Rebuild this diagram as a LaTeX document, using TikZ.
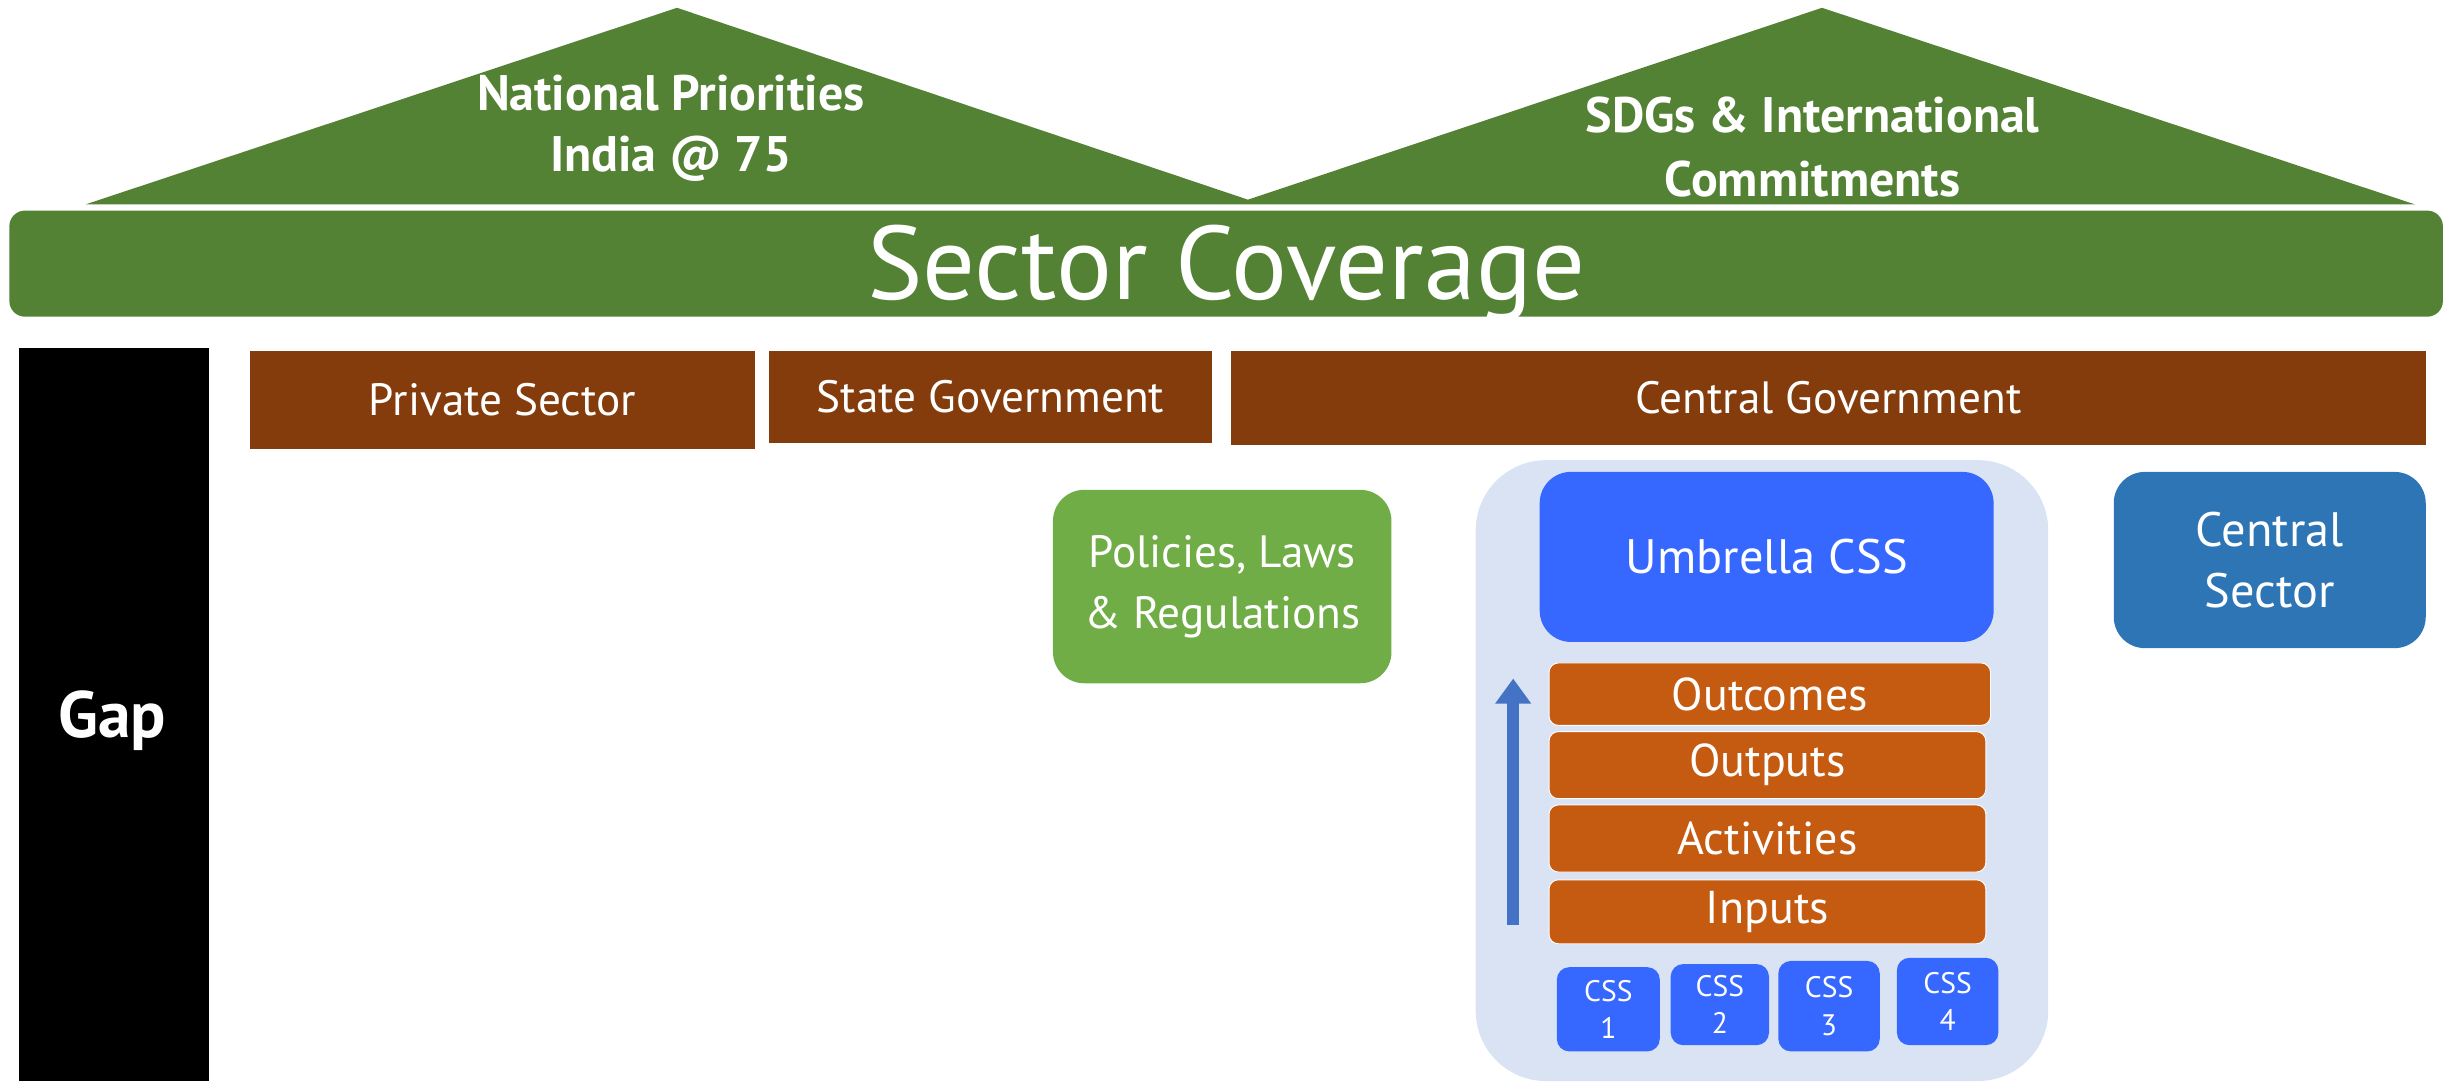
\documentclass[tikz,border=0pt]{standalone}
\usepackage{fontspec}
\setmainfont{PT Sans}
\usetikzlibrary{arrows.meta}
\definecolor{roofgreen}{HTML}{548235}
\definecolor{brownbar}{HTML}{843C0C}
\definecolor{polgreen}{HTML}{70AD47}
\definecolor{lightbox}{HTML}{DAE3F3}
\definecolor{brightblue}{HTML}{3668FF}
\definecolor{midblue}{HTML}{2E75B6}
\definecolor{orangebox}{HTML}{C55A11}
\definecolor{arrowblue}{HTML}{4472C4}
\newcommand{\fs}[2]{\fontsize{#1}{#2}\selectfont}
\tikzset{
  txt/.style={text=white, inner sep=0pt, align=center},
  brownbox/.style={txt, fill=brownbar, font=\fs{29}{34}},
  roundbox/.style={txt, rounded corners=20pt, font=\fs{30}{39}},
  levelbox/.style={txt, fill=orangebox, draw=white, line width=0.6pt, rounded corners=6pt, font=\fs{29.5}{32}},
  cssbox/.style={txt, fill=brightblue, rounded corners=8pt, font=\fs{19}{24}},
}
\begin{document}
\begin{tikzpicture}[x=1pt,y=-1pt]
\useasboundingbox (0,0) rectangle (1568,693);
% roof
\fill[roofgreen] (55,131) -- (434,5) -- (800,128) -- (1168,5) -- (1548,131) -- cycle;
\node[txt, font=\bfseries\fs{32}{39}] (natpri) at (430,82) {National Priorities\\India @ 75};
\node[txt, font=\bfseries\fs{32}{41}] (sdgs) at (1162,94) {SDGs \& International\\Commitments};
% sector coverage bar
\node[fill=roofgreen, rounded corners=10pt, minimum width=1560pt, minimum height=68pt, inner sep=0pt] (coverage) at (786,169) {};
\node[txt, font=\fs{67}{70}] (coveragelabel) at (786,175) {Sector Coverage};
% gap
\node[fill=black, minimum width=122pt, minimum height=470pt, inner sep=0pt] (gap) at (73,458) {};
\node[txt, font=\bfseries\fs{42}{46}] (gaplabel) at (72,462) {Gap};
% brown headers
\node[brownbox, minimum width=324pt, minimum height=63pt] (private) at (322,256.5) {Private Sector};
\node[brownbox, minimum width=284pt, minimum height=59pt] (state) at (635,254.5) {State Government};
\node[brownbox, minimum width=766pt, minimum height=60pt] (central) at (1172,255) {Central Government};
% policies
\node[roundbox, fill=polgreen, minimum width=217pt, minimum height=124pt, font=\fs{29}{39}] (policies) at (783.5,376) {Policies, Laws\\\& Regulations};
% container
\node[fill=lightbox, rounded corners=45pt, minimum width=367pt, minimum height=398pt, inner sep=0pt] (container) at (1129.5,494) {};
\node[roundbox, fill=brightblue, minimum width=291pt, minimum height=109pt, font=\fs{31}{39}] (umbrella) at (1132.5,357) {Umbrella CSS};
\node[roundbox, fill=midblue, minimum width=200pt, minimum height=113pt, font=\fs{31}{39}] (centralsector) at (1455,359) {Central\\Sector};
% levels
\node[levelbox, minimum width=283pt, minimum height=40pt] (outcomes) at (1134.5,445) {Outcomes};
\node[levelbox, minimum width=280pt, minimum height=43pt] (outputs) at (1133,490.5) {Outputs};
\node[levelbox, minimum width=280pt, minimum height=43pt] (activities) at (1133,537.5) {Activities};
\node[levelbox, minimum width=280pt, minimum height=41pt] (inputs) at (1133,584.5) {Inputs};
% arrow
\coordinate (arrowstart) at (970,593);
\coordinate (arrowend) at (970,435);
\draw[arrowblue, line width=8pt, -{Triangle[width=22pt,length=16pt]}] (arrowstart) -- (arrowend);
% css boxes
\node[cssbox, minimum width=66pt, minimum height=54pt] (css1) at (1031,647) {CSS\\1};
\node[cssbox, minimum width=63pt, minimum height=52pt] (css2) at (1102.5,644) {CSS\\2};
\node[cssbox, minimum width=65pt, minimum height=58pt] (css3) at (1172.5,645) {CSS\\3};
\node[cssbox, minimum width=65pt, minimum height=56pt] (css4) at (1248.5,642) {CSS\\4};
\end{tikzpicture}
\end{document}
